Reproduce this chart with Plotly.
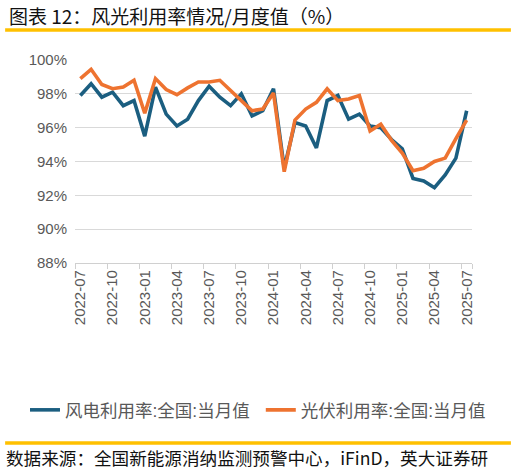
import plotly.graph_objects as go

# monthly values, 2022-07 .. 2025-07
months = [f"{y}-{m:02d}" for y in (2022, 2023, 2024, 2025) for m in range(1, 13)]
months = months[months.index("2022-07"):months.index("2025-07") + 1]

wind = [97.9, 98.6, 97.8, 98.1, 97.3, 97.6, 95.5, 98.4, 96.8, 96.1, 96.5, 97.6,
        98.45, 97.8, 97.3, 98.0, 96.7, 97.0, 98.3, 93.6, 96.3, 96.1, 94.8, 97.6,
        97.9, 96.5, 96.8, 96.1, 96.0, 95.3, 94.75, 93.0, 92.85, 92.45, 93.2, 94.2,
        97.0]
solar = [98.9, 99.45, 98.55, 98.3, 98.4, 98.8, 96.85, 98.9, 98.25, 97.95, 98.35, 98.7,
         98.7, 98.8, 98.2, 97.6, 97.0, 97.1, 98.05, 93.4, 96.45, 97.1, 97.5, 98.3,
         97.6, 97.7, 97.9, 95.8, 96.2, 95.25, 94.5, 93.45, 93.6, 94.0, 94.2, 95.35,
         96.45]

names = ["风电利用率:全国:当月值", "光伏利用率:全国:当月值"]
colors = ["#1B5E80", "#EE7330"]

title = "图表 12：风光利用率情况/月度值（%）"
source = "数据来源：全国新能源消纳监测预警中心，iFinD，英大证券研"

CJK = "Noto Sans CJK SC"
GRAY = "#595959"

x = list(range(len(months)))
label_idx = x[::3]

fig = go.Figure()
# each series gets its own legend box so the two entries sit on one row
for series, name, color, leg in zip([wind, solar], names, colors, ["legend", "legend2"]):
    fig.add_scatter(x=x, y=series, mode="lines", name=name, legend=leg,
                    line=dict(color=color, width=3.6))

legend_font = dict(size=17.5, family="Liberation Sans, " + CJK, color=GRAY)

fig.update_layout(
    width=517,
    height=474,
    margin=dict(l=75, r=45, t=60, b=211),
    paper_bgcolor="white",
    plot_bgcolor="white",
    font=dict(family="Liberation Sans, " + CJK, color=GRAY),
    showlegend=True,
    legend=dict(x=-0.126, xanchor="left", y=-0.724, yanchor="middle",
                font=legend_font, bgcolor="rgba(0,0,0,0)"),
    legend2=dict(x=0.468, xanchor="left", y=-0.724, yanchor="middle",
                 font=legend_font, bgcolor="rgba(0,0,0,0)"),
    xaxis=dict(
        range=[-0.5, len(months) - 0.5],
        tickmode="array",
        tickvals=label_idx,
        ticktext=[months[i] for i in label_idx],
        tickangle=-90,
        ticks="",
        tickfont=dict(size=15, color=GRAY),
        showgrid=False,
        showline=True,
        linecolor="#D0D0D0",
        linewidth=1.3,
        zeroline=False,
        minor=dict(tickmode="array", tickvals=[i - 0.5 for i in label_idx] + [len(months) - 0.5],
                   ticks="outside", ticklen=5, tickcolor="#D0D0D0", tickwidth=1.3,
                   showgrid=False),
    ),
    yaxis=dict(
        range=[88, 100],
        dtick=2,
        tick0=88,
        ticksuffix="%",
        tickfont=dict(size=15, color=GRAY),
        showgrid=True,
        gridcolor="#D9D9D9",
        gridwidth=1.3,
        zeroline=False,
        ticks="",
        ticklabelstandoff=7,
    ),
)

# title and source
fig.add_annotation(text=title, xref="paper", yref="paper", x=-0.172, y=1.22,
                   xanchor="left", yanchor="middle", showarrow=False,
                   font=dict(family=CJK, size=19, color="#111111"))
fig.add_annotation(text=source, xref="paper", yref="paper", x=-0.178, y=-0.96,
                   xanchor="left", yanchor="middle", showarrow=False,
                   font=dict(family=CJK, size=17.6, color="#111111"))

# yellow separator lines
for yy in (1.148, -0.887):
    fig.add_shape(type="line", xref="paper", yref="paper", x0=-0.176, x1=1.098,
                  y0=yy, y1=yy, line=dict(color="#FFC000", width=3.5))

fig.write_html("out.html", config={"displayModeBar": False},
               post_script="document.body.style.margin='0';")
